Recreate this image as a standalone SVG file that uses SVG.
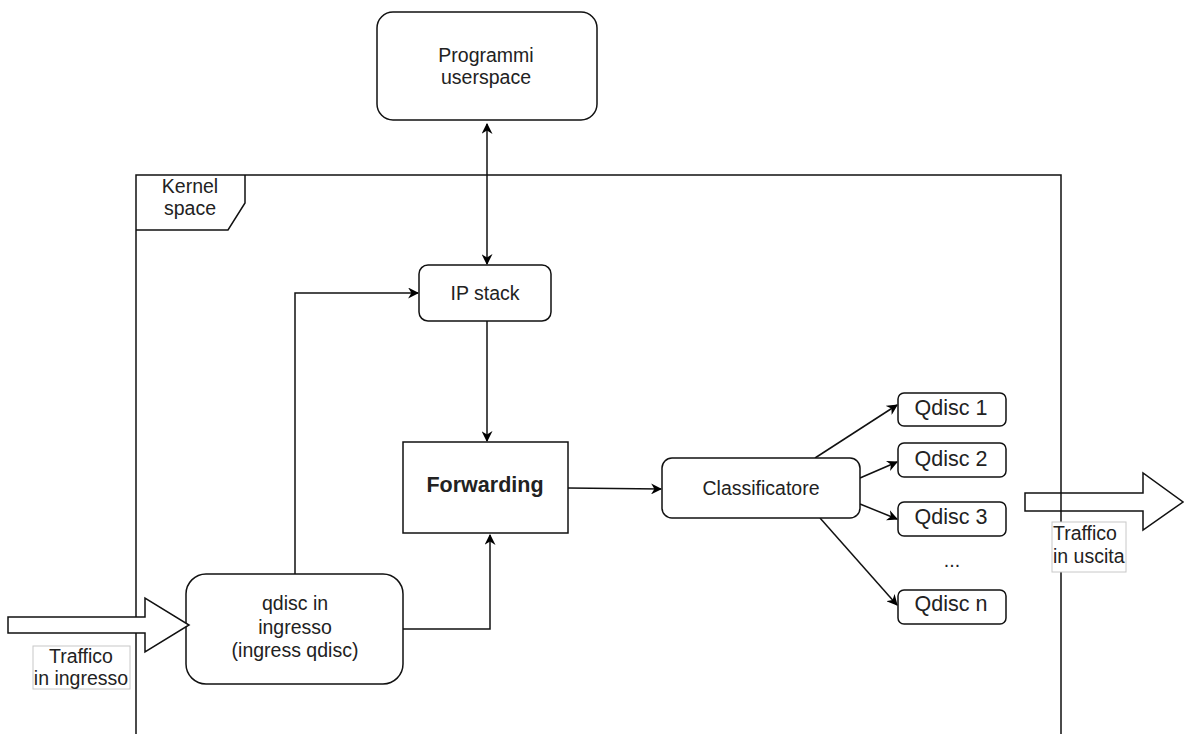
<svg xmlns="http://www.w3.org/2000/svg" width="1184" height="734" viewBox="0 0 1184 734">
  <defs>
    <marker id="arr" viewBox="0 0 10 10" refX="9" refY="5" markerWidth="11" markerHeight="11" markerUnits="userSpaceOnUse" orient="auto-start-reverse">
      <path d="M0,0 L10,5 L0,10 L3,5 Z" fill="#000"/>
    </marker>
  </defs>
  <style>
    text { font-family: "Liberation Sans", Arial, sans-serif; font-size: 19.5px; fill: #222; }
    .big { font-size: 21.5px; }
    .box { fill: #fff; stroke: #111; stroke-width: 1.5; }
    .edge { fill: none; stroke: #111; stroke-width: 1.5; }
    .label { fill: #fff; stroke: #c8c8c8; stroke-width: 1; }
  </style>
  <rect width="1184" height="734" fill="#fff"/>

  <!-- kernel space frame -->
  <g id="kernel">
    <path class="edge" d="M136,734 L136,175 L1061,175 L1061,734"/>
    <path class="edge" d="M136,230 L228,230 L245,203 L245,175"/>
    <text x="190" y="193" text-anchor="middle">Kernel</text>
    <text x="190" y="215" text-anchor="middle">space</text>
  </g>

  <g id="connectors">
    <line class="edge" x1="487" y1="124" x2="487" y2="264" marker-start="url(#arr)" marker-end="url(#arr)"/>
    <line class="edge" x1="487" y1="321" x2="487" y2="441" marker-end="url(#arr)"/>
    <polyline class="edge" points="295,574 295,293 418,293" marker-end="url(#arr)"/>
    <polyline class="edge" points="403,629 490,629 490,535" marker-end="url(#arr)"/>
    <line class="edge" x1="568" y1="488" x2="661" y2="489" marker-end="url(#arr)"/>
    <line class="edge" x1="815" y1="458" x2="897" y2="405" marker-end="url(#arr)"/>
    <line class="edge" x1="860" y1="478" x2="897" y2="462" marker-end="url(#arr)"/>
    <line class="edge" x1="860" y1="504" x2="897" y2="519" marker-end="url(#arr)"/>
    <line class="edge" x1="820" y1="518" x2="897" y2="605" marker-end="url(#arr)"/>
  </g>

  <g id="userspace">
    <rect class="box" x="377" y="12" width="220" height="108" rx="16"/>
    <text x="486" y="62" text-anchor="middle">Programmi</text>
    <text x="486" y="84" text-anchor="middle">userspace</text>
  </g>

  <g id="ipstack">
    <rect class="box" x="419" y="265" width="132" height="56" rx="9"/>
    <text x="485" y="300" text-anchor="middle">IP stack</text>
  </g>

  <g id="forwarding">
    <rect class="box" x="403" y="442" width="165" height="91"/>
    <text class="big" x="485" y="492" text-anchor="middle" font-weight="bold">Forwarding</text>
  </g>

  <g id="classificatore">
    <rect class="box" x="662" y="458" width="198" height="60" rx="10"/>
    <text x="761" y="495" text-anchor="middle">Classificatore</text>
  </g>

  <g id="qdisc-ingresso">
    <rect class="box" x="186" y="574" width="217" height="110" rx="20"/>
    <text x="295" y="610" text-anchor="middle">qdisc in</text>
    <text x="295" y="634" text-anchor="middle">ingresso</text>
    <text x="295" y="657" text-anchor="middle">(ingress qdisc)</text>
  </g>

  <g id="qdisc1">
    <rect class="box" x="898" y="393" width="108" height="33" rx="6"/>
    <text class="big" x="951" y="415" text-anchor="middle">Qdisc 1</text>
  </g>
  <g id="qdisc2">
    <rect class="box" x="898" y="443" width="108" height="34" rx="6"/>
    <text class="big" x="951" y="466" text-anchor="middle">Qdisc 2</text>
  </g>
  <g id="qdisc3">
    <rect class="box" x="898" y="502" width="108" height="34" rx="6"/>
    <text class="big" x="951" y="524" text-anchor="middle">Qdisc 3</text>
  </g>
  <g id="dots">
    <text x="952" y="567" text-anchor="middle">...</text>
  </g>
  <g id="qdiscn">
    <rect class="box" x="898" y="590" width="108" height="34" rx="6"/>
    <text class="big" x="951" y="611" text-anchor="middle">Qdisc n</text>
  </g>

  <!-- incoming traffic -->
  <g id="traffico-ingresso">
    <path class="box" d="M8,617 L145,617 L145,598 L189,625 L145,652 L145,633 L8,633 Z"/>
    <rect class="label" x="33" y="646" width="97" height="43"/>
    <text x="81" y="663" text-anchor="middle">Traffico</text>
    <text x="81" y="685" text-anchor="middle">in ingresso</text>
  </g>

  <!-- outgoing traffic -->
  <g id="traffico-uscita">
    <path class="box" d="M1025,493 L1143,493 L1143,473 L1183,502 L1143,530 L1143,511 L1025,511 Z"/>
    <line class="edge" x1="1061" y1="493" x2="1061" y2="511"/>
    <rect class="label" x="1052" y="522" width="74" height="50"/>
    <text x="1053" y="540">Traffico</text>
    <text x="1053" y="563">in uscita</text>
  </g>
</svg>
